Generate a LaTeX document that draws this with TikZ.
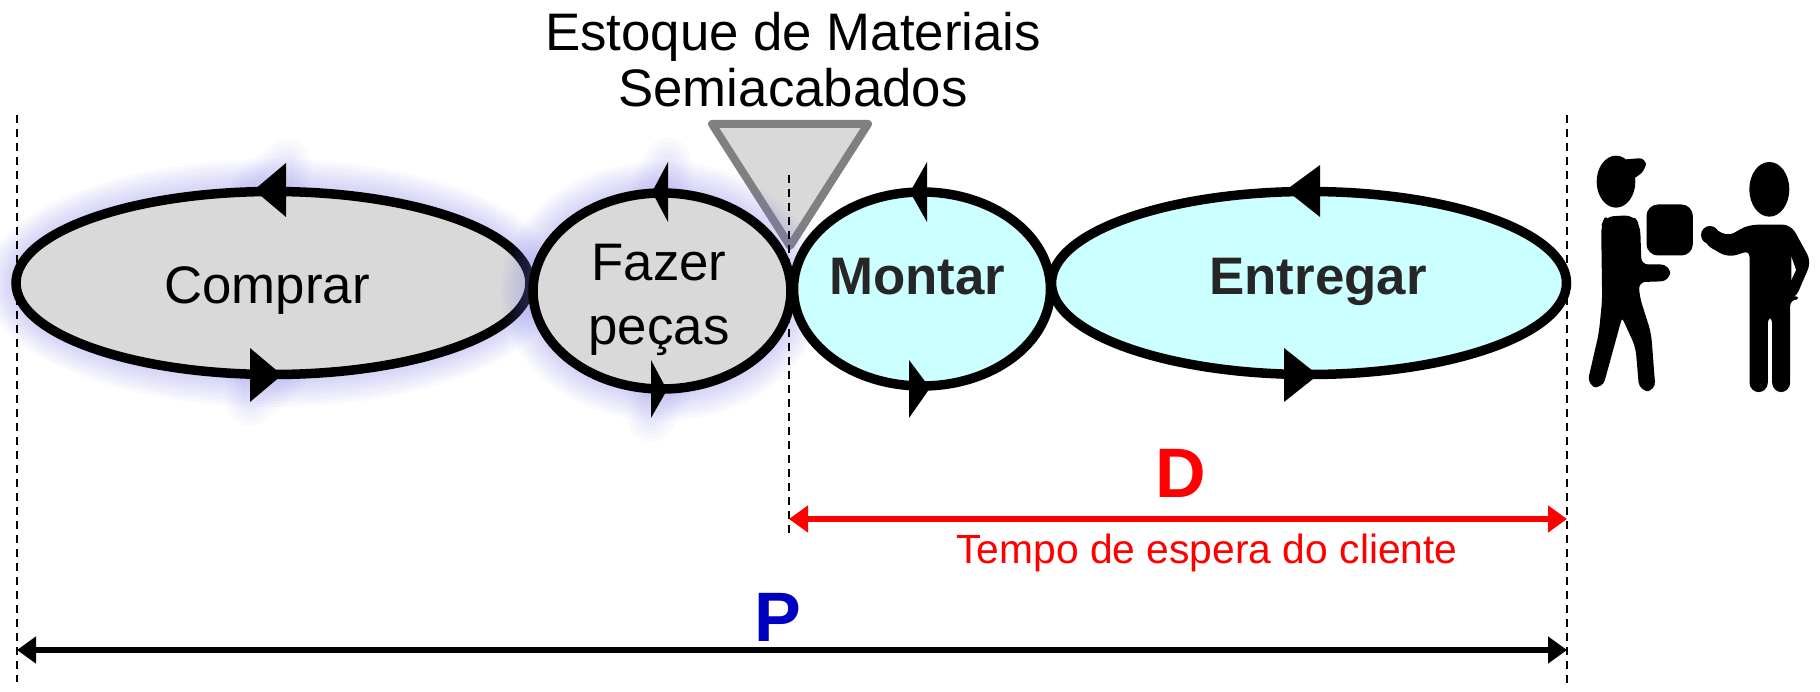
\documentclass[tikz,border=0pt]{standalone}
\usepackage{fontspec}
\setmainfont{Liberation Sans}
\usetikzlibrary{shapes.geometric,arrows.meta}
\definecolor{glowblue}{RGB}{125,125,230}
\definecolor{procgray}{RGB}{217,217,217}
\definecolor{proccyan}{RGB}{204,255,255}
\definecolor{darktext}{RGB}{38,38,38}
\definecolor{dimblue}{RGB}{0,0,192}
\tikzset{
  proc/.style={ellipse,draw=black,line width=9.5pt,inner sep=0pt,text=black,align=center},
  big/.style={font=\fontsize{52.8}{52}\selectfont},
  bigbold/.style={font=\fontsize{52.8}{65}\selectfont\bfseries,text=darktext},
  guide/.style={line width=1.6pt,dash pattern=on 8pt off 6pt},
  dimline/.style={line width=5.5pt,{Triangle[length=19pt,width=26pt]}-{Triangle[length=19pt,width=26pt]}},
  tip/.style={fill=black},
  person/.style={fill=black,draw=black,line width=3pt,line join=round},
}
\newcommand{\glowell}[4]{%
  \foreach \g in {32,29,...,2}{\fill[glowblue,opacity=.04] (#1,#2) ellipse ({#3+\g} and {#4+\g});}}
\newcommand{\glowtri}[6]{%
  \foreach \g in {48,40,32,24,16}{\draw[glowblue,opacity=.035,line width=\g pt,line join=round] (#1,#2)--(#3,#4)--(#5,#6)--cycle;}}
\begin{document}
\begin{tikzpicture}[x=1pt,y=-1pt]
\useasboundingbox (0,0) rectangle (1820,692);
% top label
\node[big,inner sep=0pt] (stockA) at (793,37) {Estoque de Materiais};
\node[big,inner sep=0pt] (stockB) at (793,88) {Semiacabados};
% comprar
\glowell{273}{283}{257}{92}
\glowtri{254}{190}{286}{163}{286}{217}
\glowtri{282}{375}{250}{348}{250}{402}
\node[proc,big,fill=procgray,minimum width=514pt,minimum height=183pt] (comprar) at (273,283) {};
% triangle
\node[draw=none,inner sep=0pt,minimum size=0pt] (apexnode) at (790,246) {};
\draw[fill=procgray,draw=black!50,line width=8pt,line join=round] (712,124) -- (868,124) -- (apexnode.center) -- cycle;
% fazer
\glowell{662}{291}{129}{98}
\glowtri{652}{192}{668}{162}{668}{222}
\glowtri{667}{390}{651}{360}{651}{418}
\node[proc,big,fill=procgray,minimum width=258pt,minimum height=196pt] (fazer) at (662,291) {};
% guides
\coordinate (gla) at (17,115); \coordinate (glb) at (17,682);
\coordinate (gma) at (789,175); \coordinate (gmb) at (789,538);
\coordinate (gra) at (1567,115); \coordinate (grb) at (1567,686);
\draw[guide] (gla) -- (glb);
\draw[guide] (gma) -- (gmb);
% montar / entregar
\node[proc,fill=proccyan,minimum width=257pt,minimum height=194pt] (montar) at (922,289) {};
\node[proc,fill=proccyan,minimum width=515pt,minimum height=183pt] (entregar) at (1309,283) {};
\draw[guide] (gra) -- (grb);
% labels
\node[big,inner sep=0pt] (tcomprar) at (267,291) {Comprar};
\node[big,inner sep=0pt] (tfazer) at (659,263) {Fazer};
\node[big,inner sep=0pt] (tpecas) at (659,336) {peças};
\node[bigbold,inner sep=0pt] (tmontar) at (917,277) {Montar};
\node[bigbold,inner sep=0pt] (tentregar) at (1318,282) {Entregar};
% arrow tips on outlines
\fill[tip] (254,190)--(286,163)--(286,217)--cycle;
\fill[tip] (282,375)--(250,348)--(250,402)--cycle;
\fill[tip] (652,192)--(668,162)--(668,222)--cycle;
\fill[tip] (667,390)--(651,360)--(651,418)--cycle;
\fill[tip] (910,192)--(927,162)--(927,222)--cycle;
\fill[tip] (930,388)--(909,360)--(909,418)--cycle;
\fill[tip] (1286,190)--(1320,165)--(1320,217)--cycle;
\fill[tip] (1318,375)--(1284,348)--(1284,402)--cycle;
% dimensions
\coordinate (da) at (789,519); \coordinate (db) at (1567,519);
\coordinate (pa) at (17,650); \coordinate (pb) at (1567,650);
\draw[dimline,red] (da) -- (db);
\draw[dimline,black] (pa) -- (pb);
\node[text=red,font=\fontsize{70}{70}\selectfont\bfseries,inner sep=0pt] (dlabel) at (1181,473) {D};
\node[text=red,font=\fontsize{40.8}{44}\selectfont,inner sep=0pt] (tempo) at (1207,553) {Tempo de espera do cliente};
\node[text=dimblue,font=\fontsize{70}{70}\selectfont\bfseries,inner sep=0pt] (plabel) at (778,617) {P};
% people
\begin{scope}[shift={(1540,100)},x=0.3333pt,y=-0.3333pt]
  \fill (228,245) ellipse (58 and 78);
  \draw[person,rounded corners=6pt] (240,184) -- (314,178) -- (312,208) -- (275,236) -- (232,236) -- cycle;
  \draw[person,rounded corners=8pt] (188,378) -- (198,354) -- (278,350) -- (296,378) -- (300,498) -- (386,498) -- (386,539) -- (292,542) -- (294,590) -- (329,700) -- (342,869) -- (302,869) -- (291,740) -- (245,640) -- (184,862) -- (146,852) -- (181,700) -- (191,600) -- cycle;
  \draw[person,rounded corners=10pt] (324,318) rectangle (454,462);
  \fill (688,268) ellipse (60 and 82);
  \fill (510,405) circle (27);
  \draw[person,rounded corners=8pt] (505,382) -- (565,414) -- (625,379) -- (750,378) -- (809,485) -- (762,594) -- (746,594) -- (746,872) -- (701,872) -- (701,645) -- (679,645) -- (679,872) -- (633,872) -- (633,446) -- (565,468) -- (495,428) -- cycle;
  \fill[white] (754,470) -- (768,510) -- (754,540) -- cycle;
\end{scope}
\end{tikzpicture}
\end{document}
